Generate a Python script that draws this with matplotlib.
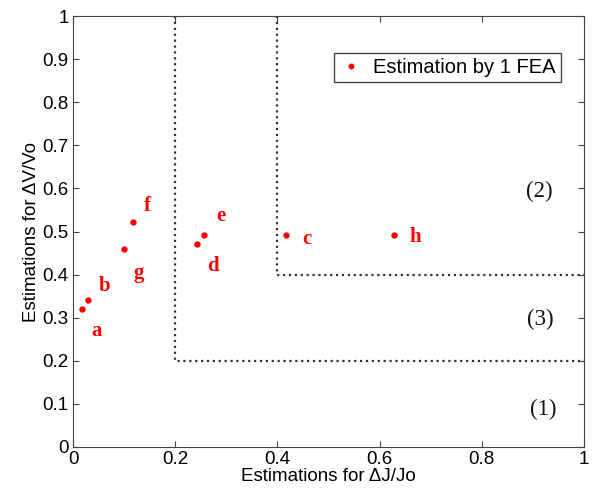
import matplotlib
matplotlib.use('Agg')
import matplotlib.pyplot as plt

# estimated points
names = ['a', 'b', 'g', 'f', 'd', 'e', 'c', 'h']
dj = [0.018, 0.029, 0.100, 0.117, 0.243, 0.256, 0.417, 0.628]
dv = [0.320, 0.341, 0.460, 0.522, 0.471, 0.492, 0.492, 0.492]
# where each letter sits
lab_x = [0.047, 0.061, 0.129, 0.145, 0.274, 0.290, 0.458, 0.669]
lab_y = [0.270, 0.373, 0.404, 0.560, 0.420, 0.536, 0.483, 0.487]

regions = ['(2)', '(3)', '(1)']
reg_x = [0.912, 0.914, 0.92]
reg_y = [0.594, 0.295, 0.088]

# region borders
b1 = 0.2
b2 = 0.4

plt.rcParams['font.family'] = ['Liberation Sans', 'DejaVu Sans']

fig = plt.figure(figsize=(5.95, 4.96), dpi=100)
ax = fig.add_axes([0.1227, 0.0988, 0.8588, 0.8689])

ax.plot([b1, b1, 1], [1, b1, b1], ':', color='#333333', lw=1.6)
ax.plot([b2, b2, 1], [1, b2, b2], ':', color='#333333', lw=1.6)

ax.plot(dj, dv, 'o', color='red', ms=3.6, ls='none', label='Estimation by 1 FEA')

for n, x, y in zip(names, lab_x, lab_y):
    ax.text(x, y, n, color='red', fontsize=15, fontweight='bold',
            family='Liberation Serif', ha='center', va='center')

for r, x, y in zip(regions, reg_x, reg_y):
    ax.text(x, y, r, color='#111111', fontsize=16.5,
            family='Liberation Serif', ha='center', va='center')

ax.set_xlim(0, 1)
ax.set_ylim(0, 1)
ax.set_xticks([0, 0.2, 0.4, 0.6, 0.8, 1])
ax.set_xticklabels(['0', '0.2', '0.4', '0.6', '0.8', '1'])
ax.set_yticks([0, 0.1, 0.2, 0.3, 0.4, 0.5, 0.6, 0.7, 0.8, 0.9, 1])
ax.set_yticklabels(['0', '0.1', '0.2', '0.3', '0.4', '0.5', '0.6', '0.7', '0.8', '0.9', '1'])
ax.tick_params(direction='in', top=True, right=True, length=4, labelsize=13.5,
               color='#444444', pad=3)
for s in ax.spines.values():
    s.set_color('#444444')

ax.set_xlabel('Estimations for \u0394J/Jo', fontsize=13.5, labelpad=0)
ax.set_ylabel('Estimations for \u0394V/Vo', fontsize=13.5, labelpad=2)

leg = ax.legend(loc='upper right', bbox_to_anchor=(0.955, 0.914), borderaxespad=0,
                fontsize=14.5, fancybox=False, framealpha=1, edgecolor='#444444',
                handlelength=1.2, handletextpad=0.5, borderpad=0.25, markerscale=0.9)
leg.get_frame().set_linewidth(1.0)

fig.savefig('out.png', dpi=100)
